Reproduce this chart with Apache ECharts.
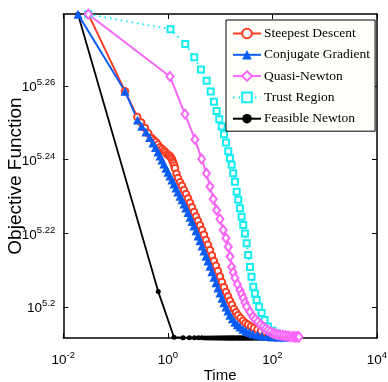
<!DOCTYPE html>
<html>
<head>
<meta charset="utf-8">
<script src="https://cdn.jsdelivr.net/npm/echarts@6/dist/echarts.min.js"></script>
<style>
html,body{margin:0;padding:0;background:#fff;}
#chart{width:388px;height:382px;}
</style>
</head>
<body>
<div id="chart"></div>
<script>
// Values are read as base-10 exponents (log10 of time, log10 of objective)
const xTickExponents = [-2, 0, 2, 4];
const yTickExponents = [5.2, 5.22, 5.24, 5.26];

const sdTimeExp = [-1.522,-0.820,-0.585,-0.51,-0.438,-0.374,-0.310,-0.268,-0.228,-0.19,-0.151,-0.113,-0.075,-0.045,-0.017,0.012,0.040,0.060,0.078,0.093,0.107,0.122,0.136,0.165,0.193,0.232,0.270,0.308,0.346,0.385,0.423,0.461,0.499,0.538,0.576,0.614,0.652,0.690,0.728,0.767,0.805,0.843,0.881,0.920,0.958,0.996,1.034,1.073,1.111,1.149,1.187,1.226,1.264,1.302,1.340,1.388,1.436,1.484,1.532,1.589,1.646,1.713,1.780,1.866,1.952,2.048,2.143,2.258,2.373];
const sdObjExp = [5.2795,5.2586,5.2516,5.2501,5.2486,5.2472,5.2459,5.2453,5.2448,5.2441,5.2434,5.2429,5.2424,5.2420,5.2415,5.2413,5.2410,5.2406,5.2402,5.2396,5.2391,5.2384,5.2377,5.2362,5.2350,5.2339,5.2329,5.2318,5.2307,5.2295,5.2283,5.2271,5.2258,5.2246,5.2234,5.2222,5.2209,5.2196,5.2182,5.2169,5.2155,5.2140,5.2125,5.2112,5.2098,5.2083,5.2068,5.2054,5.2041,5.2029,5.2017,5.2006,5.1995,5.1986,5.1978,5.1970,5.1963,5.1957,5.1952,5.1947,5.1943,5.1939,5.1935,5.1932,5.1929,5.1926,5.1924,5.1922,5.1921];

const cgTimeExp = [-1.719,-0.820,-0.581,-0.50,-0.419,-0.35,-0.285,-0.237,-0.189,-0.151,-0.113,-0.075,-0.036,0.002,0.040,0.078,0.117,0.155,0.193,0.232,0.270,0.308,0.346,0.385,0.423,0.461,0.499,0.538,0.576,0.614,0.652,0.690,0.728,0.767,0.805,0.843,0.881,0.920,0.958,0.996,1.034,1.073,1.111,1.149,1.187,1.235,1.283,1.331,1.379,1.436,1.493,1.560,1.627,1.713,1.799,1.895,1.990,2.115,2.239];
const cgObjExp = [5.2795,5.2586,5.2508,5.2491,5.2475,5.2460,5.2445,5.2433,5.2421,5.2410,5.2399,5.2388,5.2377,5.2366,5.2356,5.2345,5.2334,5.2323,5.2312,5.2301,5.2291,5.2280,5.2269,5.2257,5.2244,5.2232,5.2220,5.2207,5.2193,5.2180,5.2166,5.2152,5.2138,5.2125,5.2111,5.2096,5.2081,5.2066,5.2052,5.2038,5.2024,5.2012,5.2000,5.1989,5.1978,5.1968,5.1959,5.1952,5.1946,5.1940,5.1935,5.1931,5.1927,5.1924,5.1921,5.1920,5.1919,5.1918,5.1918];

const qnTimeExp = [-1.522,0.040,0.327,0.518,0.646,0.738,0.805,0.868,0.933,0.996,1.059,1.111,1.155,1.190,1.220,1.250,1.283,1.331,1.379,1.411,1.443,1.475,1.507,1.567,1.627,1.672,1.720,1.770,1.818,1.865,1.910,1.960,2.010,2.055,2.100,2.150,2.201,2.250,2.300,2.345,2.392,2.420,2.450,2.480,2.507];
const qnObjExp = [5.2795,5.2626,5.2524,5.2455,5.2402,5.2363,5.2327,5.2293,5.2263,5.2239,5.2209,5.2187,5.2164,5.2137,5.2109,5.2094,5.2079,5.2062,5.2046,5.2035,5.2024,5.2012,5.2001,5.1987,5.1974,5.1967,5.1960,5.1953,5.1947,5.1942,5.1937,5.1933,5.1929,5.1927,5.1925,5.1924,5.1923,5.1922,5.1921,5.1920,5.1920,5.1919,5.1919,5.1919,5.1919];

const trTimeExp = [-1.522,0.050,0.333,0.505,0.633,0.742,0.818,0.881,0.933,0.983,1.029,1.073,1.111,1.155,1.187,1.220,1.250,1.283,1.316,1.346,1.379,1.411,1.442,1.474,1.507,1.537,1.570,1.600,1.633,1.665,1.698,1.745,1.793,1.850,1.914,2.000,2.080,2.143];
const trObjExp = [5.2795,5.2754,5.2714,5.2678,5.2645,5.2614,5.2585,5.2557,5.2532,5.2510,5.2490,5.2469,5.2447,5.2423,5.2404,5.2386,5.2363,5.2340,5.2313,5.2291,5.2268,5.2245,5.2223,5.2200,5.2173,5.2141,5.2109,5.2082,5.2055,5.2037,5.2019,5.2001,5.1984,5.1965,5.1947,5.1936,5.1929,5.1923];

const fnTimeExp = [-1.719,-0.184,0.117,0.290,0.413,0.509,0.588,0.654,0.712,0.763,0.808,0.849,0.887,0.922,0.954,0.984,1.012,1.037,1.062,1.086,1.108,1.130,1.149,1.167,1.186,1.204,1.221,1.238,1.254,1.270,1.291,1.312,1.331,1.350,1.368,1.386,1.402,1.418,1.439,1.459,1.478,1.497,1.518,1.539,1.558,1.577,1.598,1.619,1.642,1.664,1.687,1.709,1.732,1.756,1.778,1.799];
const fnObjExp = [5.2795,5.2042,5.1918,5.1917,5.1917,5.1917,5.1917,5.1917,
  5.1916,5.1916,5.1916,5.1916,5.1916,5.1916,5.1916,5.1916,
  5.1916,5.1916,5.1916,5.1916,5.1916,5.1916,5.1916,5.1916,
  5.1916,5.1916,5.1916,5.1916,5.1916,5.1916,5.1916,5.1916,
  5.1916,5.1916,5.1916,5.1916,5.1916,5.1916,5.1916,5.1916,
  5.1916,5.1916,5.1916,5.1916,5.1916,5.1916,5.1916,5.1916,
  5.1916,5.1916,5.1916,5.1916,5.1916,5.1916,5.1916,5.1916];

const seriesNames = ['Steepest Descent','Conjugate Gradient','Quasi-Newton','Trust Region','Feasible Newton'];

function zip(xs, ys) {
  const n = Math.min(xs.length, ys.length);
  const out = [];
  for (let i = 0; i < n; i++) out.push([xs[i], ys[i]]);
  return out;
}

const RED = '#ff3d24', BLUE = '#0b5cf5', PINK = '#f866f8', CYAN = '#14ecf0', BLACK = '#000000';
const SANS = "'Liberation Sans', Arial, sans-serif";
const SERIF = "'Liberation Serif', 'Times New Roman', serif";

const yMin = 5.1916, yMax = 5.27955;

const labelRich = {
  b: { fontFamily: SANS, fontSize: 13.5, color: '#000', lineHeight: 17, verticalAlign: 'bottom' },
  s: { fontFamily: SANS, fontSize: 9.5, color: '#000', lineHeight: 10, verticalAlign: 'top' }
};
const axisLineStyle = { color: '#000', width: 1.5 };

const chart = echarts.init(document.getElementById('chart'), null, { renderer: 'canvas' });
chart.setOption({
  animation: false,
  backgroundColor: '#ffffff',
  grid: { left: 63.3, right: 11, top: 14, bottom: 44, containLabel: false, outerBoundsMode: 'none' },
  legend: {
    data: seriesNames,
    orient: 'vertical',
    left: 226, top: 20,
    padding: [6, 5, 5, 6],
    itemWidth: 28, itemHeight: 12, itemGap: 6.3,
    backgroundColor: '#fffffa',
    borderColor: '#000', borderWidth: 1, borderRadius: 0,
    textStyle: { fontFamily: SERIF, fontSize: 13.5, color: '#000', lineHeight: 15, padding: [0, 0, 0, -2] }
  },
  xAxis: [{
    type: 'value', position: 'bottom', min: -2, max: 4, interval: 2,
    name: 'Time', nameLocation: 'middle', nameGap: 30, nameMoveOverlap: false,
    nameTextStyle: { fontFamily: SANS, fontSize: 15, color: '#000', verticalAlign: 'top' },
    axisLine: { show: true, onZero: false, lineStyle: axisLineStyle },
    axisTick: { show: true, inside: true, length: 5, lineStyle: { color: '#000', width: 1 } },
    axisLabel: { show: true, margin: 12, formatter: function (v) { return '{b|10}{s|' + v + '}'; }, rich: labelRich },
    splitLine: { show: false }
  }, {
    type: 'value', position: 'top', min: -2, max: 4, interval: 2,
    axisLine: { show: true, onZero: false, lineStyle: axisLineStyle },
    axisTick: { show: true, inside: true, length: 5, lineStyle: { color: '#000', width: 1 } },
    axisLabel: { show: false }, splitLine: { show: false }
  }],
  yAxis: [{
    type: 'value', position: 'left', min: yMin, max: yMax,
    name: 'Objective Function', nameLocation: 'middle', nameGap: 38.5, nameRotate: 90, nameMoveOverlap: false,
    nameTextStyle: { fontFamily: SANS, fontSize: 19, color: '#000' },
    axisLine: { show: true, onZero: false, lineStyle: axisLineStyle },
    axisTick: { show: true, inside: true, length: 5, customValues: yTickExponents, lineStyle: { color: '#000', width: 1 } },
    axisLabel: { show: true, margin: 8, customValues: yTickExponents,
      formatter: function (v) { return '{b|10}{s|' + (Math.round(v * 100) / 100) + '}'; }, rich: labelRich },
    splitLine: { show: false }
  }, {
    type: 'value', position: 'right', min: yMin, max: yMax,
    axisLine: { show: true, onZero: false, lineStyle: axisLineStyle },
    axisTick: { show: true, inside: true, length: 5, customValues: yTickExponents, lineStyle: { color: '#000', width: 1 } },
    axisLabel: { show: false }, splitLine: { show: false }
  }],
  series: [
    { name: 'Feasible Newton', type: 'line', data: zip(fnTimeExp, fnObjExp),
      symbol: 'circle', symbolSize: 5, itemStyle: { color: BLACK },
      lineStyle: { color: BLACK, width: 1.8 } },
    { name: 'Steepest Descent', type: 'line', data: zip(sdTimeExp, sdObjExp),
      symbol: 'emptyCircle', symbolSize: 6.5, itemStyle: { color: RED, borderWidth: 1.5 },
      lineStyle: { color: RED, width: 2 } },
    { name: 'Conjugate Gradient', type: 'line', data: zip(cgTimeExp, cgObjExp),
      symbol: 'triangle', symbolSize: 9, itemStyle: { color: BLUE },
      lineStyle: { color: BLUE, width: 2 } },
    { name: 'Trust Region', type: 'line', data: zip(trTimeExp, trObjExp),
      symbol: 'emptyRect', symbolSize: 6, itemStyle: { color: CYAN, borderWidth: 2 },
      lineStyle: { color: CYAN, width: 2, type: [1.5, 4] } },
    { name: 'Quasi-Newton', type: 'line', data: zip(qnTimeExp, qnObjExp),
      symbol: 'emptyDiamond', symbolSize: [7, 9], itemStyle: { color: PINK, borderWidth: 2 },
      lineStyle: { color: PINK, width: 2 } }
  ]
});
</script>
</body>
</html>
